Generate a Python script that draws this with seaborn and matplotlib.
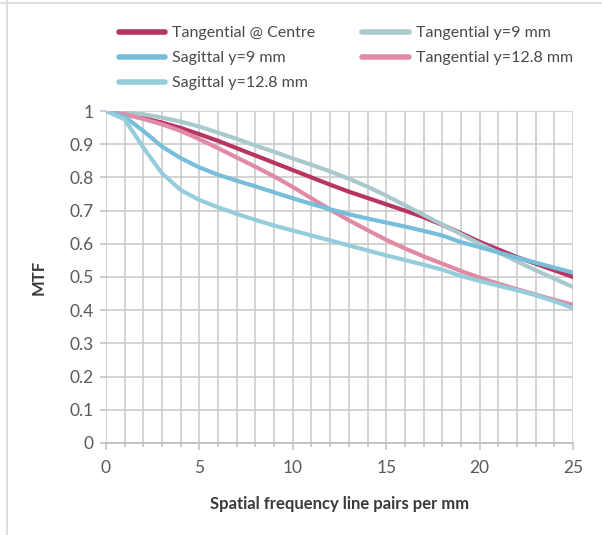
import numpy as np
import pandas as pd
import seaborn as sns
import matplotlib.pyplot as plt
from matplotlib.lines import Line2D
from matplotlib.ticker import MultipleLocator

# spatial frequency, line pairs per mm
freq = list(range(26))

tang_centre = [1.0, 0.99, 0.979, 0.965, 0.949, 0.93, 0.91, 0.888, 0.866, 0.844,
               0.822, 0.80, 0.778, 0.757, 0.738, 0.719, 0.70, 0.68, 0.657, 0.632,
               0.606, 0.583, 0.56, 0.54, 0.52, 0.50]
tang_9 = [1.0, 0.995, 0.99, 0.98, 0.968, 0.953, 0.935, 0.916, 0.896, 0.877,
          0.857, 0.838, 0.818, 0.796, 0.772, 0.745, 0.716, 0.687, 0.658, 0.629,
          0.60, 0.574, 0.547, 0.52, 0.495, 0.47]
tang_128 = [1.0, 0.99, 0.976, 0.96, 0.94, 0.915, 0.888, 0.86, 0.832, 0.803,
            0.771, 0.737, 0.703, 0.671, 0.641, 0.612, 0.586, 0.562, 0.54, 0.518,
            0.498, 0.48, 0.463, 0.447, 0.431, 0.416]
sag_9 = [1.0, 0.983, 0.94, 0.893, 0.858, 0.83, 0.808, 0.79, 0.773, 0.755,
         0.737, 0.72, 0.704, 0.689, 0.676, 0.664, 0.652, 0.639, 0.625, 0.605,
         0.59, 0.574, 0.558, 0.543, 0.528, 0.513]
sag_128 = [1.0, 0.975, 0.89, 0.812, 0.762, 0.732, 0.71, 0.69, 0.672, 0.655,
           0.64, 0.625, 0.61, 0.595, 0.58, 0.565, 0.551, 0.537, 0.522, 0.503,
           0.488, 0.474, 0.46, 0.445, 0.427, 0.406]

series = {
    'Tangential @ Centre': tang_centre,
    'Tangential y=9 mm': tang_9,
    'Tangential y=12.8 mm': tang_128,
    'Sagittal y=9 mm': sag_9,
    'Sagittal y=12.8 mm': sag_128,
}
colours = {
    'Tangential @ Centre': '#b83462',
    'Tangential y=9 mm': '#a9c9cd',
    'Tangential y=12.8 mm': '#e08ba3',
    'Sagittal y=9 mm': '#77bedb',
    'Sagittal y=12.8 mm': '#95cddb',
}
legend_order = ['Tangential @ Centre', 'Sagittal y=9 mm', 'Sagittal y=12.8 mm',
                'Tangential y=9 mm', 'Tangential y=12.8 mm']
y_ticks = [0, 0.1, 0.2, 0.3, 0.4, 0.5, 0.6, 0.7, 0.8, 0.9, 1]
y_labels = ['0', '0.1', '0.2', '0.3', '0.4', '0.5', '0.6', '0.7', '0.8', '0.9', '1']

rows = []
for name, vals in series.items():
    for f, v in zip(freq, vals):
        rows.append((name, f, v))
df = pd.DataFrame(rows, columns=['curve', 'freq', 'mtf'])

sns.set_style('white')
plt.rcParams['font.family'] = ['Lato', 'DejaVu Sans']

fig = plt.figure(figsize=(6.02, 5.35), dpi=100)
ax = fig.add_axes([0.176, 0.172, 0.776, 0.6205])

sns.lineplot(data=df, x='freq', y='mtf', hue='curve', palette=colours,
             linewidth=3.0, legend=False, ax=ax, zorder=3)

ax.set_xlim(0, 25)
ax.set_ylim(0, 1)
ax.xaxis.set_major_locator(MultipleLocator(5))
ax.xaxis.set_minor_locator(MultipleLocator(1))
ax.set_yticks(y_ticks, labels=y_labels)
ax.grid(True, which='both', color='#c8c8c8', linewidth=1.1, zorder=0)
ax.set_axisbelow(True)
for side in ['top', 'right', 'left']:
    ax.spines[side].set_visible(False)
ax.spines['bottom'].set_color('#c0c0c0')
ax.spines['bottom'].set_linewidth(1.3)

ax.tick_params(axis='x', which='major', length=5, width=1.1, color='#c0c0c0',
               labelsize=12.5, labelcolor='#5a5a5a', pad=7, bottom=True)
ax.tick_params(axis='x', which='minor', length=3, width=1.1, color='#c0c0c0', bottom=True)
ax.tick_params(axis='y', which='major', length=4, width=1.1, color='#c0c0c0',
               labelsize=12.5, labelcolor='#5a5a5a', pad=5, left=True)

ax.set_xlabel('Spatial frequency line pairs per mm', fontsize=12, fontweight='bold',
              color='#3a3a3a', labelpad=15)
ax.set_ylabel('MTF', fontsize=12, fontweight='bold', color='#3a3a3a', labelpad=16)

handles = [Line2D([0], [0], color=colours[n], linewidth=4, solid_capstyle='round')
           for n in legend_order]
fig.legend(handles, legend_order, loc='upper left', bbox_to_anchor=(0.197, 0.951),
           ncol=2, frameon=False, fontsize=11.5, handlelength=2.9, handletextpad=0.45,
           columnspacing=2.95, labelspacing=0.68, borderpad=0, borderaxespad=0,
           labelcolor='#4a4a4a')

# faint frame lines at the top and left edges of the picture
fig.add_artist(Line2D([0, 1], [1 - 3 / 535, 1 - 3 / 535], color='#d8d8d8', linewidth=1.2,
                      transform=fig.transFigure))
fig.add_artist(Line2D([7 / 602, 7 / 602], [0, 1], color='#d8d8d8', linewidth=1.2,
                      transform=fig.transFigure))

fig.savefig('out.png', dpi=100)
